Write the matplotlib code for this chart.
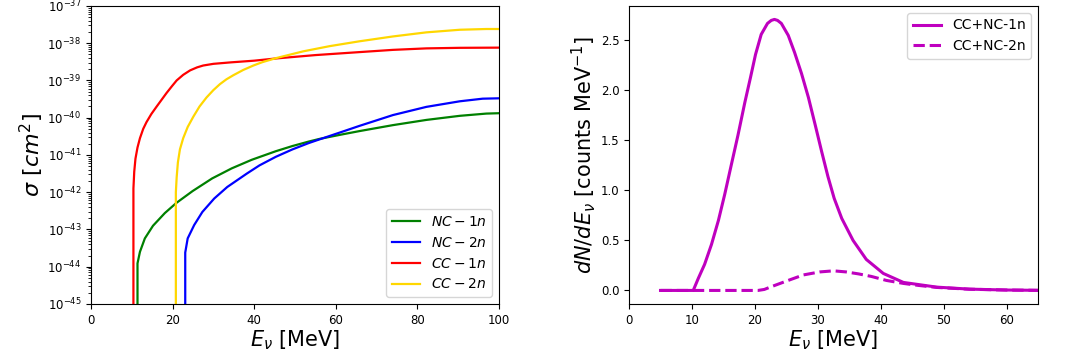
import numpy as np
import matplotlib
matplotlib.use("Agg")
import matplotlib.pyplot as plt
from matplotlib.ticker import LogLocator

# ---------------- Left panel: cross sections (log10 sigma in cm^2) ----------------
E_nc1n = [11.4, 11.4, 12.0, 13.2, 15.2, 18.1, 20.9, 24.9, 29.7, 34.5, 39.4, 45.3, 49.4,
          53.4, 56.0, 61.5, 65.8, 74.0, 82.2, 90.4, 96.9, 100.0]
logS_nc1n = [-48.0, -43.91, -43.6, -43.24, -42.9, -42.56, -42.29, -41.97, -41.63, -41.36,
             -41.13, -40.9, -40.76, -40.64, -40.57, -40.45, -40.36, -40.2, -40.06, -39.95,
             -39.89, -39.88]

E_nc2n = [23.1, 23.1, 23.7, 25.3, 27.3, 30.2, 33.4, 38.2, 41.3, 45.3, 49.4, 53.4, 55.8,
          61.5, 65.8, 74.0, 82.2, 90.4, 96.0, 100.0]
logS_nc2n = [-48.0, -43.62, -43.24, -42.88, -42.53, -42.17, -41.86, -41.5, -41.28, -41.05,
             -40.85, -40.68, -40.59, -40.38, -40.22, -39.93, -39.71, -39.56, -39.49, -39.48]

E_cc1n = [10.4, 10.4, 10.6, 10.9, 11.4, 12.0, 12.8, 13.6, 14.8, 16.1, 17.3, 18.5, 19.8,
          21.0, 22.6, 24.3, 26.0, 27.5, 30.0, 34.3, 40.0, 45.4, 55.0, 65.8, 74.0, 82.2,
          90.4, 100.0]
logS_cc1n = [-48.0, -41.9, -41.45, -41.1, -40.8, -40.55, -40.3, -40.12, -39.9, -39.7,
             -39.52, -39.34, -39.16, -39.0, -38.85, -38.73, -38.65, -38.6, -38.555, -38.515,
             -38.47, -38.41, -38.32, -38.24, -38.18, -38.14, -38.125, -38.12]

E_cc2n = [20.8, 20.8, 21.0, 21.3, 21.8, 22.6, 23.7, 25.1, 26.6, 28.3, 30.0, 31.6, 33.2,
          34.9, 37.3, 39.8, 42.0, 45.4, 52.0, 58.5, 65.8, 74.0, 82.2, 90.4, 96.9, 100.0]
logS_cc2n = [-48.0, -42.0, -41.6, -41.2, -40.85, -40.55, -40.25, -39.97, -39.7, -39.46,
             -39.26, -39.1, -38.97, -38.86, -38.72, -38.6, -38.51, -38.40, -38.22, -38.08,
             -37.95, -37.82, -37.71, -37.64, -37.62, -37.62]

# ---------------- Right panel: event spectra ----------------
E_1n = [5.0, 10.2, 11.0, 12.0, 13.1, 14.2, 15.2, 16.3, 17.3, 18.4, 19.3, 20.1, 21.0, 22.0,
        22.6, 23.1, 23.6, 24.2, 25.3, 26.3, 27.4, 28.5, 29.6, 30.6, 31.6, 32.6, 33.8, 35.6,
        37.7, 40.4, 43.6, 48.9, 54.1, 60.0, 65.0]
dN_1n = [0.0, 0.0, 0.12, 0.26, 0.46, 0.70, 0.96, 1.27, 1.55, 1.88, 2.13, 2.36, 2.56, 2.67,
         2.70, 2.71, 2.70, 2.67, 2.55, 2.38, 2.17, 1.93, 1.65, 1.39, 1.14, 0.92, 0.72, 0.50,
         0.31, 0.17, 0.08, 0.033, 0.013, 0.004, 0.001]

E_2n = [5.0, 10.0, 15.0, 20.5, 21.5, 22.5, 24.0, 25.5, 27.7, 30.3, 32.5, 34.5, 36.5, 38.5,
        40.9, 43.6, 46.0, 48.9, 54.1, 60.0, 65.0]
dN_2n = [0.0, 0.0, 0.0, 0.0, 0.01, 0.035, 0.07, 0.105, 0.155, 0.185, 0.196, 0.185, 0.165,
         0.14, 0.10, 0.07, 0.05, 0.03, 0.012, 0.004, 0.001]

fig = plt.figure(figsize=(10.68, 3.6), dpi=100)
ax1 = fig.add_axes([0.0852, 0.1556, 0.382, 0.828])
ax2 = fig.add_axes([0.589, 0.1556, 0.383, 0.828])

lw = 1.6
ax1.plot(E_nc1n, 10.0 ** np.array(logS_nc1n), color='green', lw=lw, label=r'$NC-1n$')
ax1.plot(E_nc2n, 10.0 ** np.array(logS_nc2n), color='blue', lw=lw, label=r'$NC-2n$')
ax1.plot(E_cc1n, 10.0 ** np.array(logS_cc1n), color='red', lw=lw, label=r'$CC-1n$')
ax1.plot(E_cc2n, 10.0 ** np.array(logS_cc2n), color='gold', lw=lw, label=r'$CC-2n$')
ax1.set_yscale('log')
ax1.set_xlim(0, 100)
ax1.set_ylim(1e-45, 1e-37)
ax1.yaxis.set_major_locator(LogLocator(base=10, numticks=20))
ax1.yaxis.set_minor_locator(LogLocator(base=10, subs=np.arange(2, 10), numticks=100))
ax1.set_xlabel(r'$E_\nu$ [MeV]', fontsize=15, labelpad=1)
ax1.set_ylabel(r'$\sigma\ [cm^2]$', fontsize=16, labelpad=1)
ax1.tick_params(labelsize=8.5)
ax1.legend(loc='lower right', fontsize=10)

ax2.plot(E_1n, dN_1n, color='m', lw=2.2, label='CC+NC-1n')
ax2.plot(E_2n, dN_2n, color='m', lw=2.2, ls='--', label='CC+NC-2n')
ax2.set_xlim(0, 65)
ax2.set_ylim(-0.1355, 2.845)
ax2.set_xlabel(r'$E_\nu$ [MeV]', fontsize=15, labelpad=1)
ax2.set_ylabel(r'$dN/dE_\nu$ [counts MeV$^{-1}$]', fontsize=15, labelpad=2)
ax2.tick_params(labelsize=8.5)
ax2.legend(loc='upper right', fontsize=10)

fig.savefig('out.png', dpi=100)
